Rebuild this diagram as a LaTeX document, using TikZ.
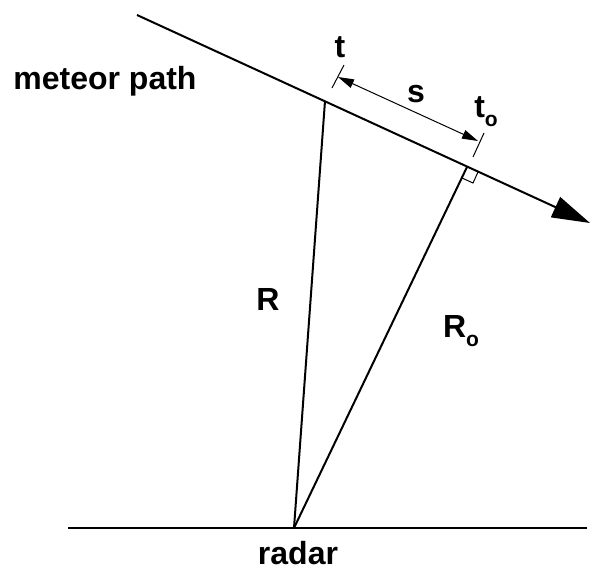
\documentclass[tikz,border=0pt]{standalone}
\usepackage{fontspec}
\setmainfont{Liberation Sans}
\usetikzlibrary{arrows.meta}
\newcommand{\subo}{\raisebox{-0.28em}{\fontsize{21}{21}\selectfont o}}
\begin{document}
\begin{tikzpicture}[x=1pt,y=-1pt,
  lbl/.style={font=\fontsize{32}{36}\selectfont\bfseries, inner sep=0pt},
  thick line/.style={line width=2pt},
  thin line/.style={line width=1pt}]
\useasboundingbox (0,0) rectangle (611,570);
% key points
\coordinate (S) at (137,15);
\coordinate (E) at (590,223);
\coordinate (P) at (325,101);
\coordinate (F) at (467,167);
\coordinate (O) at (294,528);
\coordinate (GL) at (68,528);
\coordinate (GR) at (587,528);
% tick marks and s arrow
\coordinate (T1a) at (332,88);
\coordinate (T1b) at (344,65);
\coordinate (T2a) at (473,157);
\coordinate (T2b) at (484,133);
\coordinate (A1) at (338,77);
\coordinate (A2) at (478,141);
% right angle marker
\coordinate (Q1) at (462,178);
\coordinate (Q2) at (473,183);
\coordinate (Q3) at (478,172);
% lines
\draw[thick line, -{Triangle[length=38pt,width=22pt]}] (S) -- (E);
\draw[thick line] (GL) -- (GR);
\draw[thick line] (O) -- (P);
\draw[thick line] (O) -- (F);
\draw[thin line] (T1a) -- (T1b);
\draw[thin line] (T2a) -- (T2b);
\draw[thin line, {Triangle[length=16pt,width=9pt]}-{Triangle[length=16pt,width=9pt]}] (A1) -- (A2);
\draw[thin line] (Q1) -- (Q2) -- (Q3);
% labels
\node[lbl] (lmp) at (105,81) {meteor path};
\node[lbl] (lt) at (340,47) {t};
\node[lbl] (ls) at (416,94) {s};
\node[lbl] (lto) at (486,112) {t\subo};
\node[lbl] (lR) at (268,299) {R};
\node[lbl] (lRo) at (461,331) {R\subo};
\node[lbl] (lrad) at (298,553) {radar};
\end{tikzpicture}
\end{document}
